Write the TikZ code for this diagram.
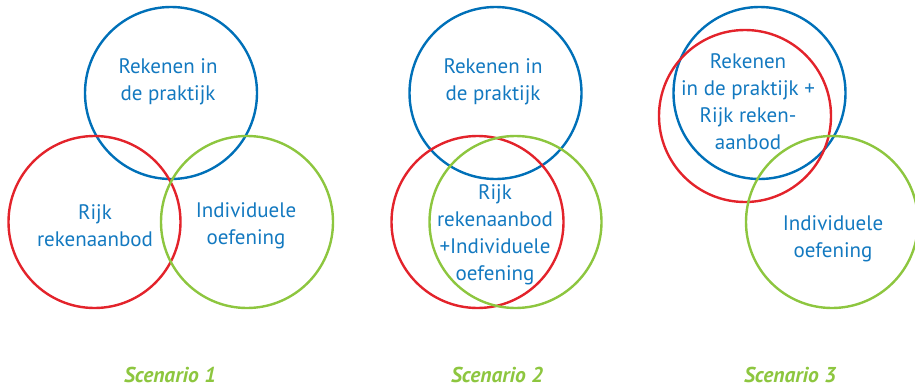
\documentclass[tikz,border=0pt]{standalone}
\usepackage{fontspec}
\setmainfont{PT Sans}
\usetikzlibrary{positioning}
\definecolor{ringblue}{HTML}{0070B8}
\definecolor{ringred}{HTML}{E3232B}
\definecolor{ringgreen}{HTML}{8DC63F}
\definecolor{textblue}{HTML}{1379C0}
\begin{document}
\begin{tikzpicture}[x=1pt, y=-1pt]
      \tikzstyle{ring}=[circle, line width=2.4pt, minimum size=172pt, inner sep=0pt]
      \tikzstyle{label}=[text=textblue, align=center, font=\fontsize{21}{27}\selectfont]
      \tikzstyle{caption}=[text=ringgreen, inner sep=0pt, font=\fontsize{21.5}{24}\selectfont\bfseries\itshape]
      \useasboundingbox (0,0) rectangle (915,388);
      % scenario 1
      \node[ring, draw=ringblue] (blueA) at (171,93) {};
      \node[ring, draw=ringred] (redA) at (94.5,222) {};
      \node[ring, draw=ringgreen] (greenA) at (247,222) {};
      \node[label] (praktijkA) at (168,82) {Rekenen in\\de praktijk};
      \node[label] (rijkA) at (95,226) {Rijk\\rekenaanbod};
      \node[label] (oefenA) at (246,226) {Individuele\\oefening};
      \node[caption] (scenA) at (170,375) {Scenario 1};
      % scenario 2
      \node[ring, draw=ringblue] (blueB) at (495.5,93) {};
      \node[ring, draw=ringred] (redB) at (477.5,222) {};
      \node[ring, draw=ringgreen] (greenB) at (515.5,222) {};
      \node[label] (praktijkB) at (493,82) {Rekenen in\\de praktijk};
      \node[label] (rijkB) at (495,235) {Rijk\\rekenaanbod\\+Individuele\\oefening};
      \node[caption] (scenB) at (497,375) {Scenario 2};
      % scenario 3
      \node[ring, draw=ringblue] (blueC) at (759.5,93) {};
      \node[ring, draw=ringred] (redC) at (745,116) {};
      \node[ring, draw=ringgreen] (greenC) at (832,222) {};
      \node[label] (praktijkC) at (748,102) {Rekenen\\in de praktijk +\\Rijk reken-\\aanbod};
      \node[label] (oefenC) at (833,239) {Individuele\\oefening};
      \node[caption] (scenC) at (790,375) {Scenario 3};
\end{tikzpicture}
\end{document}
